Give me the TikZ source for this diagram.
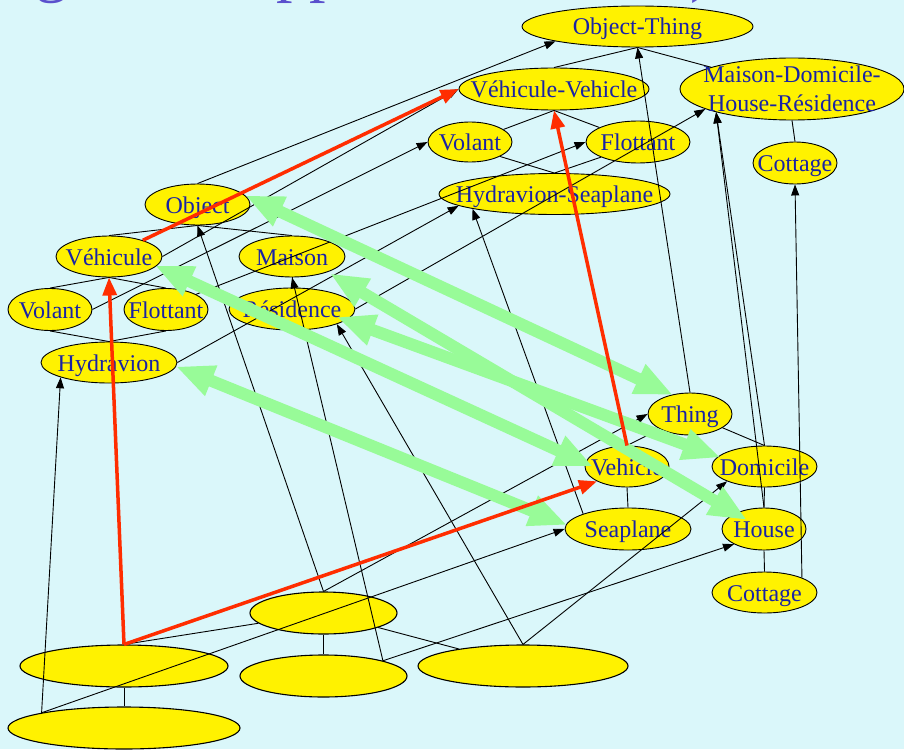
\documentclass[tikz,border=0pt]{standalone}
\usepackage{fontspec}
\setmainfont{Liberation Serif}
\usetikzlibrary{shapes.geometric,arrows.meta,calc}
\definecolor{bgcyan}{RGB}{218,247,250}
\definecolor{nodeyellow}{RGB}{255,242,0}
\definecolor{labelblue}{RGB}{25,35,165}
\definecolor{titleblue}{RGB}{90,80,205}
\definecolor{mapgreen}{RGB}{152,251,152}
\definecolor{linkred}{RGB}{255,45,0}
% label centred on the node without enlarging the ellipse
\newcommand{\ctext}[1]{\makebox[0pt]{\raisebox{-8.5pt}[0pt][0pt]{#1}}}
\begin{document}
\begin{tikzpicture}[x=1pt,y=-1pt,
  concept/.style={ellipse, draw=black, line width=0.9pt, fill=nodeyellow, inner sep=0pt,
                  text=labelblue, font=\fontsize{24}{28}\selectfont},
  instance/.style={ellipse, draw=black, line width=1.1pt, fill=nodeyellow, inner sep=0pt},
  isa/.style={draw=black, line width=0.9pt},
  mapto/.style={draw=black, line width=0.9pt, -{Triangle[length=11pt,width=8pt]}},
  hilite/.style={draw=linkred, line width=3.5pt, -{Triangle[length=18pt,width=14pt]}},
  equiv/.style={draw=mapgreen, line width=12pt,
                {Triangle[length=38pt,width=30pt]}-{Triangle[length=38pt,width=30pt]}},
  heading/.style={anchor=base west, inner sep=0pt, text=titleblue, font=\fontsize{66}{70}\selectfont},
]
\path[use as bounding box] (0,0) rectangle (904,749);
\clip (0,0) rectangle (904,749);
\fill[bgcyan] (0,0) rectangle (904,749);

% heading, mostly above the frame
\node[heading] (titleg) at (35,-10) {g};
\node[heading] (titlepp) at (276,-10) {pp};
\node[heading] (titleparen) at (690,-10) {)};

% merged ontology
\node[concept, minimum width=231pt, minimum height=41pt] (ot) at (637.5,26.5) {\ctext{Object-Thing}};
\node[concept, minimum width=190pt, minimum height=42pt] (vv) at (554,89) {\ctext{Véhicule-Vehicle}};
\node[concept, minimum width=224pt, minimum height=62pt] (mdhr) at (792,89)
  {\makebox[0pt]{\raisebox{6pt}[0pt][0pt]{Maison-Domicile-}}\makebox[0pt]{\raisebox{-23pt}[0pt][0pt]{House-Résidence}}};
\node[concept, minimum width=84pt, minimum height=40pt] (vol2) at (470,142) {\ctext{Volant}};
\node[concept, minimum width=104pt, minimum height=42pt] (flo2) at (638,142) {\ctext{Flottant}};
\node[concept, minimum width=84pt, minimum height=42pt] (cot2) at (795,163) {\ctext{Cottage}};
\node[concept, minimum width=231pt, minimum height=41pt] (hs) at (554.5,194) {\ctext{Hydravion-Seaplane}};

% French ontology
\node[concept, minimum width=105pt, minimum height=41pt] (object) at (197.5,204.5) {\ctext{Object}};
\node[concept, minimum width=106pt, minimum height=41pt] (vehicule) at (109,256.5) {\ctext{Véhicule}};
\node[concept, minimum width=106pt, minimum height=41pt] (maison) at (292,256.5) {\ctext{Maison}};
\node[concept, minimum width=84pt, minimum height=42pt] (volant) at (50,309.5) {\ctext{Volant}};
\node[concept, minimum width=84pt, minimum height=42pt] (flottant) at (166,309.5) {\ctext{Flottant}};
\node[concept, minimum width=126pt, minimum height=42pt] (residence) at (292,309) {\ctext{Résidence}};
\node[concept, minimum width=136pt, minimum height=41pt] (hydravion) at (109,362.5) {\ctext{Hydravion}};

% English ontology
\node[concept, minimum width=84pt, minimum height=42pt] (thing) at (690,414) {\ctext{Thing}};
\node[concept, minimum width=84pt, minimum height=41pt] (vehicle) at (627,466.5) {\ctext{Vehicle}};
\node[concept, minimum width=105pt, minimum height=41pt] (domicile) at (764.5,466.5) {\ctext{Domicile}};
\node[concept, minimum width=126pt, minimum height=42pt] (seaplane) at (628,529) {\ctext{Seaplane}};
\node[concept, minimum width=84pt, minimum height=42pt] (house) at (764,529) {\ctext{House}};
\node[concept, minimum width=105pt, minimum height=41pt] (cottage) at (764.5,592.5) {\ctext{Cottage}};

% instances
\node[instance, minimum width=147pt, minimum height=42pt] (b1) at (323.5,613) {};
\node[instance, minimum width=208pt, minimum height=42pt] (b2) at (124,666) {};
\node[instance, minimum width=167pt, minimum height=42pt] (b3) at (323.5,676) {};
\node[instance, minimum width=210pt, minimum height=42pt] (b4) at (523,666) {};
\node[instance, minimum width=232pt, minimum height=42pt] (b5) at (124,728) {};

% subclass links
\draw[isa] (object.south) -- (vehicule.north);
\draw[isa] (object.south) -- (maison.north);
\draw[isa] (vehicule.south) -- (volant.north);
\draw[isa] (vehicule.south) -- (flottant.north);
\draw[isa] (volant.south) -- (hydravion.north);
\draw[isa] (flottant.south) -- (hydravion.north);
\draw[isa] (maison.south) -- (residence.north);
\draw[isa] (thing) -- (vehicle.north);
\draw[isa] (thing) -- (domicile.north);
\draw[isa] (vehicle.south) -- (seaplane.north);
\draw[isa] (domicile.south) -- (house.north);
\draw[isa] (house.south) -- (cottage.north);
\draw[isa] (ot.south) -- (vv.north);
\draw[isa] (ot.south) -- (mdhr);
\draw[isa] (vv.south) -- (vol2);
\draw[isa] (vv.south) -- (flo2);
\draw[isa] (vol2.south east) -- (hs.north);
\draw[isa] (flo2.south west) -- (hs.north);
\draw[isa] (mdhr.south) -- (cot2.north);
\draw[isa] (b2.north) -- (b1);
\draw[isa] (b1.south) -- (b3.north);
\draw[isa] (b1) -- (b4);
\draw[isa] (b2.south) -- (b5.north);

% concepts into the merged ontology
\draw[mapto] (object.north) -- (ot.south west);
\draw[mapto] (vehicule.east) -- (vv.west);
\draw[mapto] (volant.east) -- (vol2.west);
\draw[mapto] (flottant.north east) -- (flo2.west);
\draw[mapto] (hydravion.east) -- (hs.187);
\draw[mapto] (residence.east) -- (mdhr.193);
\draw[mapto] (thing.north) -- (ot.south);
\draw[mapto] (seaplane.north west) -- (hs.south west);
\draw[mapto] (domicile.north) -- (mdhr.197);
\draw[mapto] (house.north) -- (mdhr.197);
\draw[mapto] (cottage.north east) -- (cot2.south);

% instances into concepts
\draw[mapto] (b5.north west) -- (hydravion.south west);
\draw[mapto] (b5.north west) -- (seaplane.west);
\draw[mapto] (b1.north) -- (object.south);
\draw[mapto] (b1.north) -- (thing.west);
\draw[mapto] (b3.north east) -- (maison.south);
\draw[mapto] (b3.north east) -- (house.south west);
\draw[mapto] (b4.north) -- (residence.south east);
\draw[mapto] (b4.north) -- (domicile.south west);

% correspondences between the two ontologies
\draw[equiv] ($(object)+(48,-9)$) -- ($(thing)+(-17,-19)$);
\draw[equiv] ($(vehicule)+(46,9)$) -- ($(vehicle)+(-34,0)$);
\draw[equiv] ($(maison)+(38,17)$) -- ($(house)+(-17,-9)$);
\draw[equiv] ($(residence)+(45,8)$) -- ($(domicile)+(-44,-9)$);
\draw[equiv] ($(hydravion)+(67,4)$) -- ($(seaplane)+(-61,-4)$);

% highlighted path
\draw[hilite] (b2.north) -- (vehicule.south);
\draw[hilite] (b2.north) -- (vehicle.south west);
\draw[hilite] (vehicule) -- (vv.west);
\draw[hilite] (vehicle.north) -- (vv.south);
\end{tikzpicture}
\end{document}
